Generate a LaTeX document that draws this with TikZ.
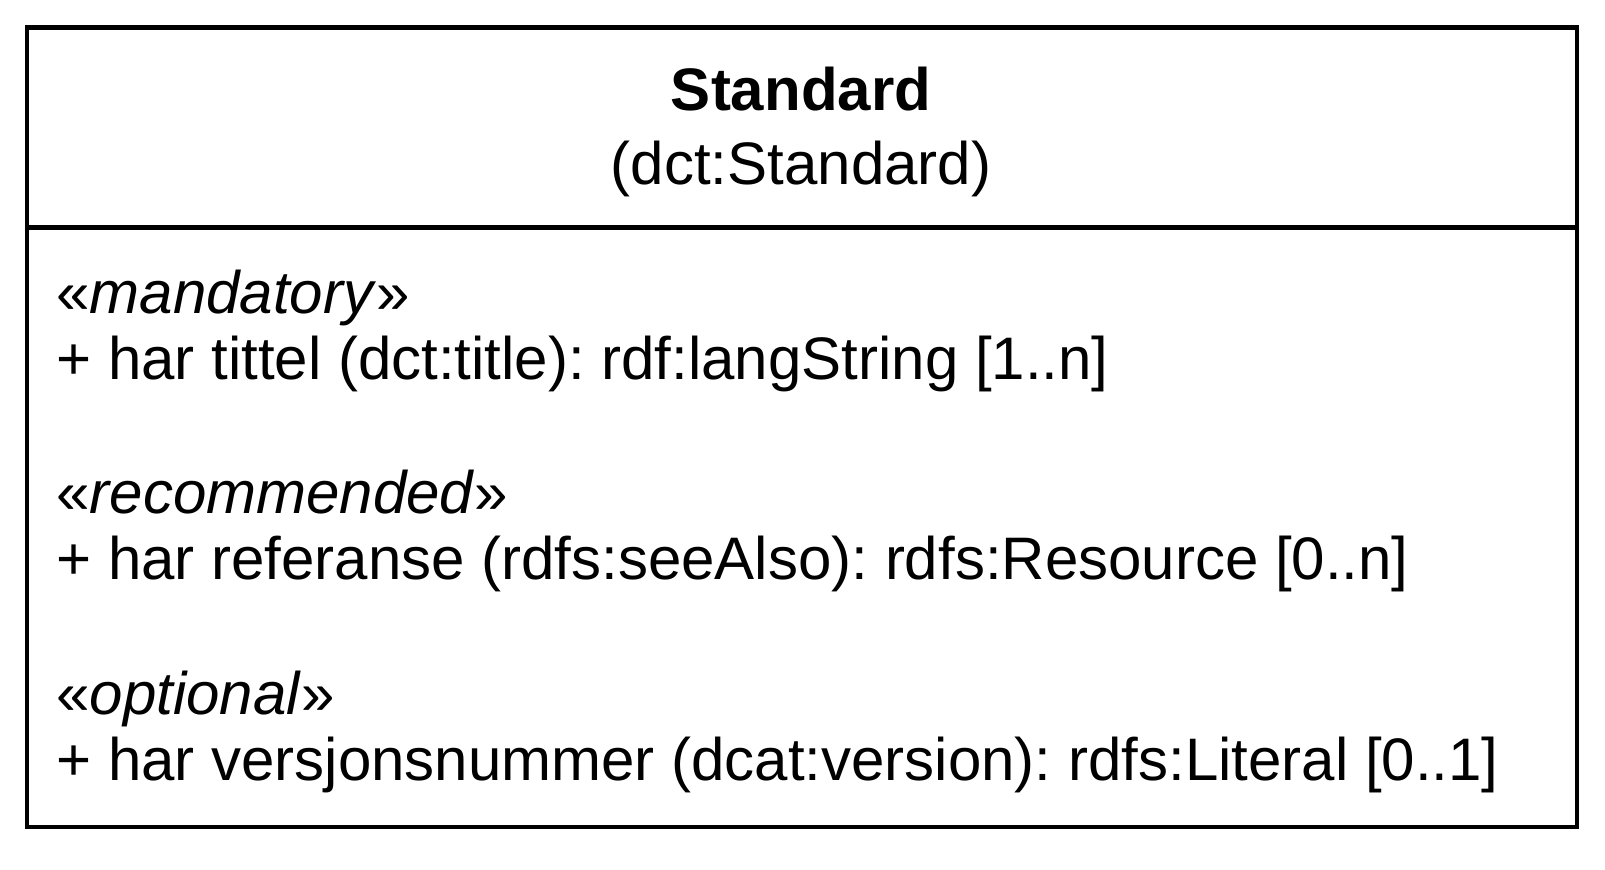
\documentclass[tikz,border=0pt]{standalone}
\usepackage{fontspec}
\setmainfont{Liberation Sans}
\begin{document}
\frenchspacing
\begin{tikzpicture}[x=0.5pt,y=-0.5pt,
  frame/.style={draw=black, line width=2.25pt},
  txt/.style={inner sep=0pt, font=\fontsize{30pt}{36pt}\selectfont},
  attr/.style={txt, anchor=base west},
  head/.style={txt, anchor=base}]
\useasboundingbox (0,0) rectangle (1605,870);
% class box with header compartment
\coordinate (tl) at (27,27.5);
\coordinate (br) at (1577,827);
\coordinate (sepl) at (27,227.5);
\coordinate (sepr) at (1577,227.5);
\draw[frame] (tl) rectangle (br);
\draw[frame] (sepl) -- (sepr);
% header
\node[head, font=\fontsize{30pt}{36pt}\selectfont\bfseries] (name) at (801,111) {Standard};
\node[head] (uri) at (801,185) {(dct:Standard)};
% attributes
\node[attr] (st1) at (56,314) {«\textit{mandatory}»};
\node[attr] (a1) at (56,380) {+ har tittel (dct:title): rdf:langString [1..n]};
\node[attr] (st2) at (56,514) {«\textit{recommended}»};
\node[attr] (a2) at (56,580) {+ har referanse (rdfs:seeAlso): rdfs:Resource [0..n]};
\node[attr] (st3) at (56,714) {«\textit{optional}»};
\node[attr] (a3) at (56,780) {+ har versjonsnummer (dcat:version): rdfs:Literal [0..1]};
\end{tikzpicture}
\end{document}
